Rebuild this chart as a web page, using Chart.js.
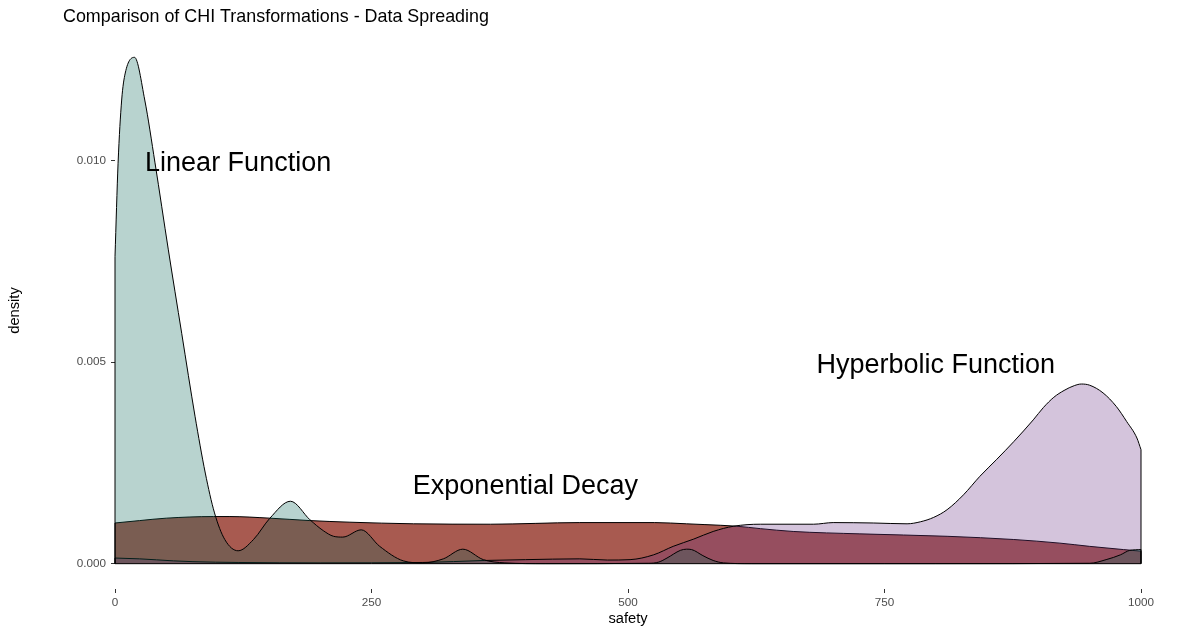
<!DOCTYPE html>
<html>
<head>
<meta charset="utf-8">
<script src="https://cdn.jsdelivr.net/npm/chart.js@4/dist/chart.umd.min.js"></script>
<style>
  body { margin: 0; background: #fff; }
  #wrap { width: 1200px; height: 633px; position: relative; }
</style>
</head>
<body>
<div id="wrap"><canvas id="chi-density"></canvas></div>
<script>
// density curves (safety -> density)
const linearX = [0, 3, 6.5, 10, 19, 29, 39, 52, 65, 78, 88, 97, 107, 120, 135, 151, 171, 190, 203, 213, 222, 240, 258, 281, 300, 320, 339, 359, 380, 420, 520, 530, 538, 551, 557, 562, 573, 583, 593, 620, 800, 950, 966, 980, 989, 1000];
const linearY = [0.00762, 0.00994, 0.01151, 0.01218, 0.01257, 0.01151, 0.00995, 0.00779, 0.00572, 0.00366, 0.00225, 0.00126, 0.0006, 0.00032, 0.0006, 0.00113, 0.00155, 0.00109, 0.00082, 0.00068, 0.00066, 0.00084, 0.00043, 0.00007, 0.00002, 0.00012, 0.00036, 0.0001, 0.00002, 0, 0.00001, 0.00004, 0.00014, 0.00033, 0.00036, 0.00035, 0.0002, 0.00008, 0.00002, 0, 0, 0.00001, 0.0001, 0.00022, 0.00033, 0.00035];

const expX = [0, 24, 50, 96, 112, 151, 190, 229, 291, 366, 453, 526, 557, 575, 606, 629, 661, 726, 811, 876, 921, 950, 983, 1000];
const expY = [0.00101, 0.00107, 0.00113, 0.00117, 0.00117, 0.00113, 0.00107, 0.00103, 0.00099, 0.00098, 0.00102, 0.00102, 0.00099, 0.00097, 0.00093, 0.00087, 0.0008, 0.00074, 0.00068, 0.0006, 0.00051, 0.00043, 0.00035, 0.00031];

const hypX = [0, 24, 57, 76, 120, 200, 300, 360, 400, 453, 480, 502, 525, 544, 564, 583, 603, 629, 681, 700, 739, 772, 785, 798, 811, 827, 843, 859, 876, 895, 905, 915, 925, 935, 942, 950, 963, 976, 986, 996, 1000];
const hypY = [0.00014, 0.00012, 0.00007, 0.00005, 0.00003, 0.00002, 0.00003, 0.00008, 0.0001, 0.00012, 0.00009, 0.0001, 0.00022, 0.00043, 0.00061, 0.0008, 0.00093, 0.00098, 0.00098, 0.00102, 0.00101, 0.00099, 0.00104, 0.00115, 0.00134, 0.00171, 0.00217, 0.00258, 0.00303, 0.00357, 0.00388, 0.00413, 0.0043, 0.00442, 0.00446, 0.00443, 0.00424, 0.0039, 0.00353, 0.00312, 0.00283];

const xTicks = [0, 250, 500, 750, 1000];
const yTicks = [0, 0.005, 0.010];

const labelText = ['Linear Function', 'Exponential Decay', 'Hyperbolic Function'];
const labelX = [120, 400, 800];
const labelY = [0.010, 0.002, 0.005];

const FONT = '"Liberation Sans", Arial, sans-serif';
const toPoints = (xs, ys) => xs.map((x, i) => ({ x: x, y: ys[i] }));
const peak = Math.max(...linearY, ...expY, ...hypY);
const pad = peak * 0.05;

// black outline along the bottom and at the cut ends, like the polygon edges in ggplot
const polyEdges = {
    id: 'polyEdges',
    afterDatasetsDraw(chart) {
        const { ctx, scales: { x, y } } = chart;
        const base = y.getPixelForValue(0);
        ctx.save();
        ctx.strokeStyle = '#000';
        ctx.lineWidth = 1;
        chart.data.datasets.forEach((ds, i) => {
            const pts = chart.getDatasetMeta(i).data;
            [pts[0], pts[pts.length - 1]].forEach(p => {
                ctx.beginPath();
                ctx.moveTo(p.x, p.y);
                ctx.lineTo(p.x, base);
                ctx.stroke();
            });
        });
        ctx.beginPath();
        ctx.moveTo(x.getPixelForValue(0), base);
        ctx.lineTo(x.getPixelForValue(1000), base);
        ctx.stroke();
        ctx.restore();
    }
};

const textLayer = {
    id: 'textLayer',
    afterDraw(chart) {
        const { ctx, scales: { x, y } } = chart;
        ctx.save();
        ctx.fillStyle = '#000';
        ctx.textAlign = 'center';
        ctx.textBaseline = 'middle';
        ctx.font = '27px ' + FONT;
        labelText.forEach((t, i) => {
            ctx.fillText(t, x.getPixelForValue(labelX[i]), y.getPixelForValue(labelY[i]) + 3);
        });
        // plot title
        ctx.textAlign = 'left';
        ctx.font = '17.9px ' + FONT;
        ctx.fillText('Comparison of CHI Transformations - Data Spreading', 63, 17);
        ctx.restore();
    }
};

const common = {
    fill: 'origin',
    borderColor: '#000',
    borderWidth: 1,
    pointRadius: 0,
    cubicInterpolationMode: 'monotone',
    clip: 3
};

new Chart('chi-density', {
    type: 'line',
    data: {
        datasets: [
            Object.assign({ label: 'Linear Function', data: toPoints(linearX, linearY), backgroundColor: 'rgba(10,103,90,0.29)', order: 1 }, common),
            Object.assign({ label: 'Hyperbolic Function', data: toPoints(hypX, hypY), backgroundColor: 'rgba(107,52,134,0.29)', order: 2 }, common),
            Object.assign({ label: 'Exponential Decay', data: toPoints(expX, expY), backgroundColor: 'rgb(168,90,80)', order: 3 }, common)
        ]
    },
    options: {
        responsive: true,
        maintainAspectRatio: false,
        animation: false,
        layout: { padding: { top: 32, right: 59, left: 0, bottom: 0 } },
        plugins: {
            legend: { display: false },
            tooltip: { enabled: false },
            title: { display: false }
        },
        scales: {
            x: {
                type: 'linear',
                min: 0,
                max: 1000,
                afterBuildTicks: s => { s.ticks = xTicks.map(v => ({ value: v })); },
                afterFit: s => { s.height = 44; },
                border: { display: false },
                grid: { drawOnChartArea: false, drawTicks: true, tickLength: 4, tickColor: '#333' },
                ticks: { color: '#4d4d4d', font: { family: FONT, size: 11.7 }, padding: 3, maxRotation: 0, callback: v => String(v) },
                title: { display: true, text: 'safety', color: '#000', font: { family: FONT, size: 14.7 }, padding: { top: 0, bottom: 5 } }
            },
            y: {
                min: -pad,
                max: peak + pad,
                afterBuildTicks: s => { s.ticks = yTicks.map(v => ({ value: v })); },
                afterFit: s => { s.width = 115; },
                border: { display: false },
                grid: { drawOnChartArea: false, drawTicks: true, tickLength: 4, tickColor: '#333' },
                ticks: { color: '#4d4d4d', font: { family: FONT, size: 11.7 }, padding: 5, callback: v => v.toFixed(3) },
                title: { display: true, text: 'density', color: '#000', font: { family: FONT, size: 14.7 }, padding: { top: 6, bottom: 0 } }
            }
        }
    },
    plugins: [polyEdges, textLayer]
});
</script>
</body>
</html>
